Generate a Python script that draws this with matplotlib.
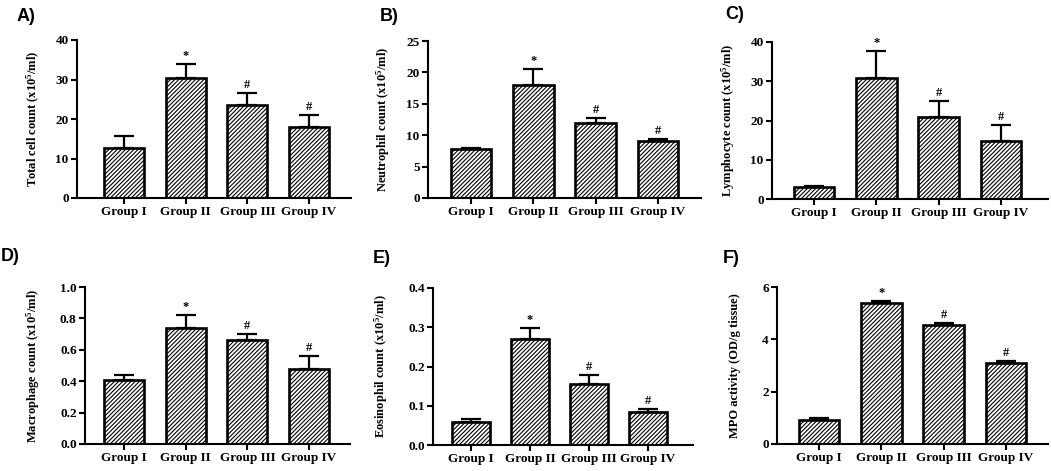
import numpy as np
import matplotlib
matplotlib.use("Agg")
import matplotlib.pyplot as plt

plt.rcParams['font.family'] = 'Liberation Serif'
plt.rcParams['font.weight'] = 'bold'
plt.rcParams['axes.labelweight'] = 'bold'
plt.rcParams['mathtext.fontset'] = 'custom'
plt.rcParams['mathtext.rm'] = 'Liberation Serif:bold'
plt.rcParams['mathtext.default'] = 'rm'
plt.rcParams['hatch.linewidth'] = 0.8

groups = ["Group I", "Group II", "Group III", "Group IV"]
marks = ["", "*", "#", "#"]

total_mean = [12.6, 30.3, 23.5, 17.9]
total_sem = [3.1, 3.6, 3.1, 3.2]
neut_mean = [7.8, 18.0, 11.9, 9.1]
neut_sem = [0.2, 2.5, 0.8, 0.25]
lymph_mean = [3.0, 30.8, 21.0, 14.7]
lymph_sem = [0.2, 6.8, 3.9, 4.1]
macro_mean = [0.41, 0.74, 0.66, 0.48]
macro_sem = [0.03, 0.08, 0.04, 0.08]
eos_mean = [0.058, 0.271, 0.155, 0.083]
eos_sem = [0.009, 0.028, 0.023, 0.009]
mpo_mean = [0.90, 5.37, 4.54, 3.11]
mpo_sem = [0.08, 0.10, 0.10, 0.07]

W, H = 1051, 471
fig = plt.figure(figsize=(W / 100, H / 100), dpi=100)

# panel: letter, ylabel, means, sems, ymax, ystep, axes box (px), bar0 px, spacing px, letter pos, ylabel x
panels = [
    ("A)", "Total cell count (x10$^5$/ml)", total_mean, total_sem, 40, 10,
     (77, 40, 351, 198), 124, 61.7, (17, 8), 33),
    ("B)", "Neutrophil count (x10$^5$/ml)", neut_mean, neut_sem, 25, 5,
     (428, 41, 701, 198), 471, 62.3, (380, 8), 383),
    ("C)", "Lymphocyte count (x10$^5$/ml)", lymph_mean, lymph_sem, 40, 10,
     (772, 42, 1048, 199), 814, 62.3, (725, 6), 728),
    ("D)", "Macrophage count (x10$^5$/ml)", macro_mean, macro_sem, 1.0, 0.2,
     (85, 287, 350, 444), 124, 61.7, (1, 248), 33),
    ("E)", "Eosinophil count (x10$^5$/ml)", eos_mean, eos_sem, 0.4, 0.1,
     (433, 288, 693, 445), 471, 59.0, (373, 250), 381),
    ("F)", "MPO activity (OD/g tissue)", mpo_mean, mpo_sem, 6, 2,
     (777, 287, 1048, 444), 819, 62.3, (723, 250), 735),
]

for letter, ylab, mean, sem, ymax, ystep, box, bar0, sp, lpos, ylx in panels:
    x0, y0, x1, y1 = box
    ax = fig.add_axes([x0 / W, 1 - y1 / H, (x1 - x0) / W, (y1 - y0) / H])
    x = np.arange(len(groups))
    ax.errorbar(x, mean, yerr=[np.zeros(len(x)), sem], fmt='none', ecolor='k',
                elinewidth=1.6, capsize=7.5, capthick=1.6, zorder=1)
    ax.bar(x, mean, width=0.65, color='white', edgecolor='k', linewidth=1.9,
           hatch='////////', zorder=2)
    for i in range(len(x)):
        if marks[i]:
            ax.annotate(marks[i], (x[i], mean[i] + sem[i]), xytext=(0, 1.5),
                        textcoords='offset points', ha='center', va='bottom',
                        fontsize=9, weight='bold')
    ax.set_xlim((x0 - bar0) / sp, (x1 - bar0) / sp)
    ax.set_ylim(0, ymax)
    yt = np.arange(0, ymax + ystep / 2, ystep)
    ax.set_yticks(yt)
    if ystep < 1:
        ax.set_yticklabels(["%.1f" % v for v in yt], weight='bold')
    else:
        ax.set_yticklabels(["%d" % v for v in yt], weight='bold')
    ax.set_xticks(x)
    ax.set_xticklabels(groups, weight='bold')
    ax.spines['top'].set_visible(False)
    ax.spines['right'].set_visible(False)
    ax.spines['left'].set_linewidth(1.5)
    ax.spines['bottom'].set_linewidth(1.5)
    ax.tick_params(direction='out', length=4, width=1.5, labelsize=9.5, pad=2)
    ax.set_ylabel(ylab, fontsize=9, va='center', weight='bold')
    ax.yaxis.set_label_coords((ylx - x0) / (x1 - x0), 0.5)
    fig.text(lpos[0] / W, 1 - lpos[1] / H, letter, family='Liberation Sans',
             weight='bold', fontsize=13, ha='left', va='top')

fig.savefig("out.png", dpi=100)
